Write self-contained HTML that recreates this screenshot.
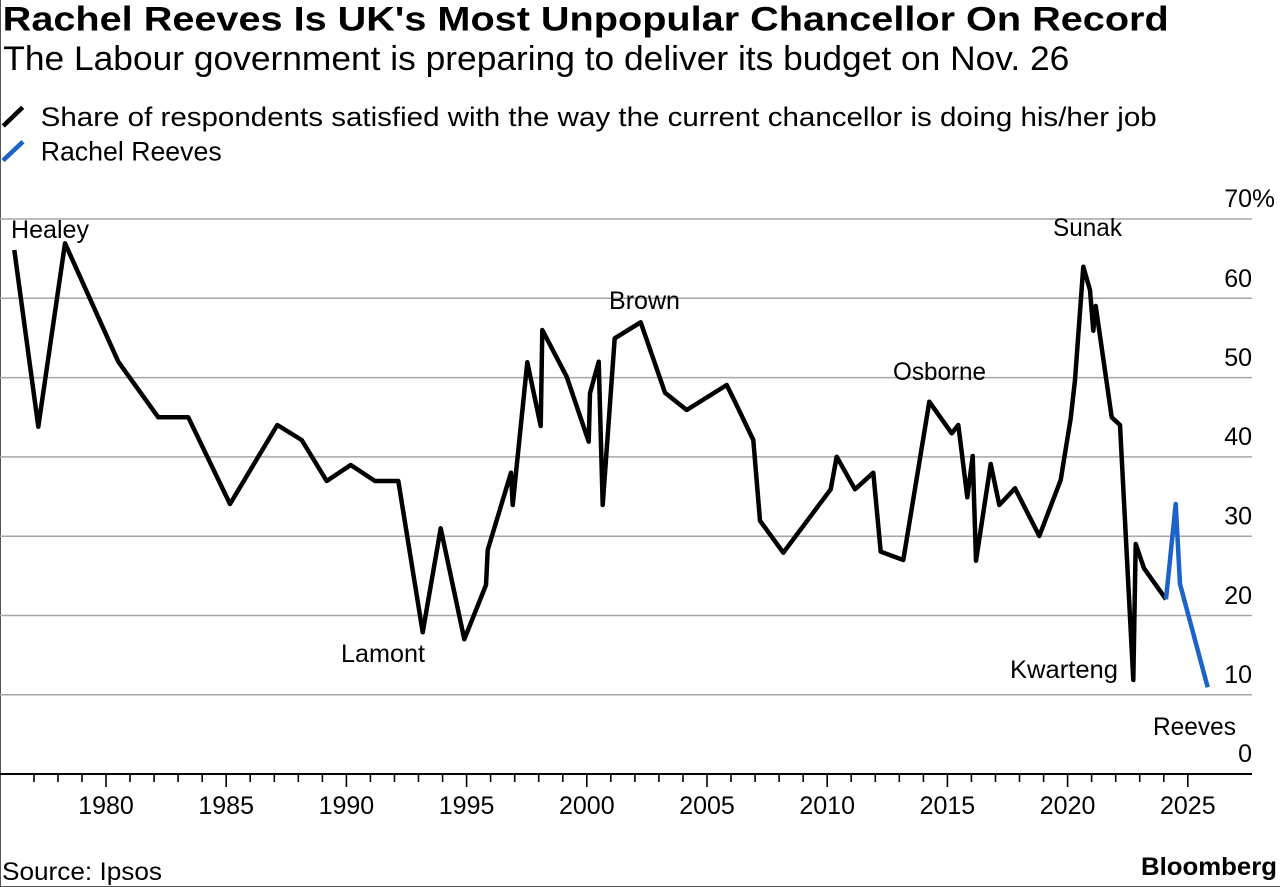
<!DOCTYPE html>
<html>
<head>
<meta charset="utf-8">
<style>
  html,body{margin:0;padding:0;background:#fff;}
  svg{display:block;}
  text{font-family:"Liberation Sans", Arial, sans-serif;fill:#000;}
</style>
</head>
<body>
<svg width="1280" height="887" viewBox="0 0 1280 887" xmlns="http://www.w3.org/2000/svg">
  <rect x="0" y="0" width="1280" height="887" fill="#fff"/>
  <!-- border -->
  <line x1="0.5" y1="0" x2="0.5" y2="887" stroke="#555" stroke-width="1"/>
  <line x1="0" y1="886.5" x2="1280" y2="886.5" stroke="#555" stroke-width="1"/>

  <!-- Title / subtitle -->
  <text x="2.7" y="30.7" font-size="34" font-weight="bold" textLength="1166" lengthAdjust="spacingAndGlyphs">Rachel Reeves Is UK's Most Unpopular Chancellor On Record</text>
  <text x="3.3" y="70" font-size="34" textLength="1066" lengthAdjust="spacingAndGlyphs">The Labour government is preparing to deliver its budget on Nov. 26</text>

  <!-- Legend -->
  <line x1="3.3" y1="126" x2="22.7" y2="107.3" stroke="#000" stroke-width="4.5"/>
  <text x="40.7" y="126" font-size="27" textLength="1116" lengthAdjust="spacingAndGlyphs">Share of respondents satisfied with the way the current chancellor is doing his/her job</text>
  <line x1="3" y1="160.5" x2="23" y2="141.7" stroke="#1b63c9" stroke-width="4.5"/>
  <text x="40.7" y="160.7" font-size="27" textLength="181" lengthAdjust="spacingAndGlyphs">Rachel Reeves</text>

  <!-- Gridlines -->
  <g stroke="#a6a6a6" stroke-width="1.5">
    <line x1="0" y1="219" x2="1252" y2="219"/>
    <line x1="0" y1="298.3" x2="1252" y2="298.3"/>
    <line x1="0" y1="377.6" x2="1252" y2="377.6"/>
    <line x1="0" y1="456.9" x2="1252" y2="456.9"/>
    <line x1="0" y1="536.2" x2="1252" y2="536.2"/>
    <line x1="0" y1="615.5" x2="1252" y2="615.5"/>
    <line x1="0" y1="694.8" x2="1252" y2="694.8"/>
  </g>

  <!-- Y labels -->
  <g font-size="25" text-anchor="end">
    <text x="1252" y="207">70</text>
    <text x="1252" y="287">60</text>
    <text x="1252" y="366">50</text>
    <text x="1252" y="445">40</text>
    <text x="1252" y="524.5">30</text>
    <text x="1252" y="604">20</text>
    <text x="1252" y="683">10</text>
    <text x="1252" y="762">0</text>
  </g>
  <text x="1252" y="207" font-size="25" textLength="23" lengthAdjust="spacingAndGlyphs">%</text>

  <!-- X axis -->
  <line x1="0" y1="774" x2="1252" y2="774" stroke="#000" stroke-width="2"/>
  <g stroke="#000" stroke-width="1.6">
    <line x1="34.0" y1="774" x2="34.0" y2="782"/>
    <line x1="58.0" y1="774" x2="58.0" y2="782"/>
    <line x1="82.0" y1="774" x2="82.0" y2="782"/>
    <line x1="106.0" y1="774" x2="106.0" y2="787"/>
    <line x1="130.0" y1="774" x2="130.0" y2="782"/>
    <line x1="154.1" y1="774" x2="154.1" y2="782"/>
    <line x1="178.1" y1="774" x2="178.1" y2="782"/>
    <line x1="202.2" y1="774" x2="202.2" y2="782"/>
    <line x1="226.2" y1="774" x2="226.2" y2="787"/>
    <line x1="250.2" y1="774" x2="250.2" y2="782"/>
    <line x1="274.3" y1="774" x2="274.3" y2="782"/>
    <line x1="298.3" y1="774" x2="298.3" y2="782"/>
    <line x1="322.4" y1="774" x2="322.4" y2="782"/>
    <line x1="346.4" y1="774" x2="346.4" y2="787"/>
    <line x1="370.4" y1="774" x2="370.4" y2="782"/>
    <line x1="394.5" y1="774" x2="394.5" y2="782"/>
    <line x1="418.5" y1="774" x2="418.5" y2="782"/>
    <line x1="442.6" y1="774" x2="442.6" y2="782"/>
    <line x1="466.6" y1="774" x2="466.6" y2="787"/>
    <line x1="490.6" y1="774" x2="490.6" y2="782"/>
    <line x1="514.7" y1="774" x2="514.7" y2="782"/>
    <line x1="538.7" y1="774" x2="538.7" y2="782"/>
    <line x1="562.8" y1="774" x2="562.8" y2="782"/>
    <line x1="586.8" y1="774" x2="586.8" y2="787"/>
    <line x1="610.8" y1="774" x2="610.8" y2="782"/>
    <line x1="634.9" y1="774" x2="634.9" y2="782"/>
    <line x1="658.9" y1="774" x2="658.9" y2="782"/>
    <line x1="683.0" y1="774" x2="683.0" y2="782"/>
    <line x1="707.0" y1="774" x2="707.0" y2="787"/>
    <line x1="731.0" y1="774" x2="731.0" y2="782"/>
    <line x1="755.1" y1="774" x2="755.1" y2="782"/>
    <line x1="779.1" y1="774" x2="779.1" y2="782"/>
    <line x1="803.2" y1="774" x2="803.2" y2="782"/>
    <line x1="827.2" y1="774" x2="827.2" y2="787"/>
    <line x1="851.2" y1="774" x2="851.2" y2="782"/>
    <line x1="875.3" y1="774" x2="875.3" y2="782"/>
    <line x1="899.3" y1="774" x2="899.3" y2="782"/>
    <line x1="923.4" y1="774" x2="923.4" y2="782"/>
    <line x1="947.4" y1="774" x2="947.4" y2="787"/>
    <line x1="971.4" y1="774" x2="971.4" y2="782"/>
    <line x1="995.5" y1="774" x2="995.5" y2="782"/>
    <line x1="1019.5" y1="774" x2="1019.5" y2="782"/>
    <line x1="1043.6" y1="774" x2="1043.6" y2="782"/>
    <line x1="1067.6" y1="774" x2="1067.6" y2="787"/>
    <line x1="1091.6" y1="774" x2="1091.6" y2="782"/>
    <line x1="1115.7" y1="774" x2="1115.7" y2="782"/>
    <line x1="1139.7" y1="774" x2="1139.7" y2="782"/>
    <line x1="1163.8" y1="774" x2="1163.8" y2="782"/>
    <line x1="1187.8" y1="774" x2="1187.8" y2="787"/>
  </g>
  <g font-size="25" text-anchor="middle">
    <text x="106" y="814">1980</text>
    <text x="226.2" y="814">1985</text>
    <text x="346.4" y="814">1990</text>
    <text x="466.6" y="814">1995</text>
    <text x="586.8" y="814">2000</text>
    <text x="707" y="814">2005</text>
    <text x="827.2" y="814">2010</text>
    <text x="947.4" y="814">2015</text>
    <text x="1067.6" y="814">2020</text>
    <text x="1187.8" y="814">2025</text>
  </g>

  <!-- Data series -->
  <polyline fill="none" stroke="#000" stroke-width="4.5" stroke-linejoin="round" stroke-linecap="butt"
    points="14.3,250 38.3,426.7 65,243.3 118.3,361.7 158.3,417.3 188.3,417.3 230,504 277.3,425 301.7,440 326.7,481 350.7,465 375,481 398.3,481 422.7,632.3 440.7,528.3 464.3,639.3 486,585 487.7,550 511,472.7 512.7,505 527.3,362.3 540.7,426 542.3,330 566.7,376.7 588.7,441.7 590,393.3 598.7,361.7 602.7,505 614.7,338.3 640.7,322.3 665,392.7 686.7,410 726.7,385 735,401.7 753.3,440 760,520.7 783.3,552.7 830.7,489.3 836.7,456.7 855,489.3 873.3,472.7 880.7,551.7 903.3,560 929.3,401.7 951.7,433.3 958.3,425 967.3,497.3 972.7,456 976,560.7 990.7,464 999.3,505 1015,488.3 1039.3,536 1060.7,480 1065,453.3 1070.7,418.3 1075,380 1083.3,266.7 1090,290 1093.3,330.7 1095.7,306 1111.7,417.3 1120,425 1133.3,680 1135.7,544 1144,568.3 1166,599.3"/>
  <polyline fill="none" stroke="#1b63c9" stroke-width="4.5" stroke-linejoin="round" stroke-linecap="butt"
    points="1166,599.3 1175.7,504 1180,584 1207.7,687.3"/>

  <!-- Annotations -->
  <g font-size="25">
    <text x="11" y="238" textLength="78" lengthAdjust="spacingAndGlyphs">Healey</text>
    <text x="609" y="309" textLength="71" lengthAdjust="spacingAndGlyphs">Brown</text>
    <text x="341" y="662" textLength="84" lengthAdjust="spacingAndGlyphs">Lamont</text>
    <text x="893" y="380" textLength="93" lengthAdjust="spacingAndGlyphs">Osborne</text>
    <text x="1053" y="236" textLength="69" lengthAdjust="spacingAndGlyphs">Sunak</text>
    <text x="1010" y="678" textLength="108" lengthAdjust="spacingAndGlyphs">Kwarteng</text>
    <text x="1153" y="735" textLength="83" lengthAdjust="spacingAndGlyphs">Reeves</text>
  </g>

  <!-- Footer -->
  <text x="2" y="880" font-size="25" textLength="160" lengthAdjust="spacingAndGlyphs">Source: Ipsos</text>
  <text x="1141" y="875" font-size="25" font-weight="bold" textLength="136" lengthAdjust="spacingAndGlyphs">Bloomberg</text>
</svg>
</body>
</html>
